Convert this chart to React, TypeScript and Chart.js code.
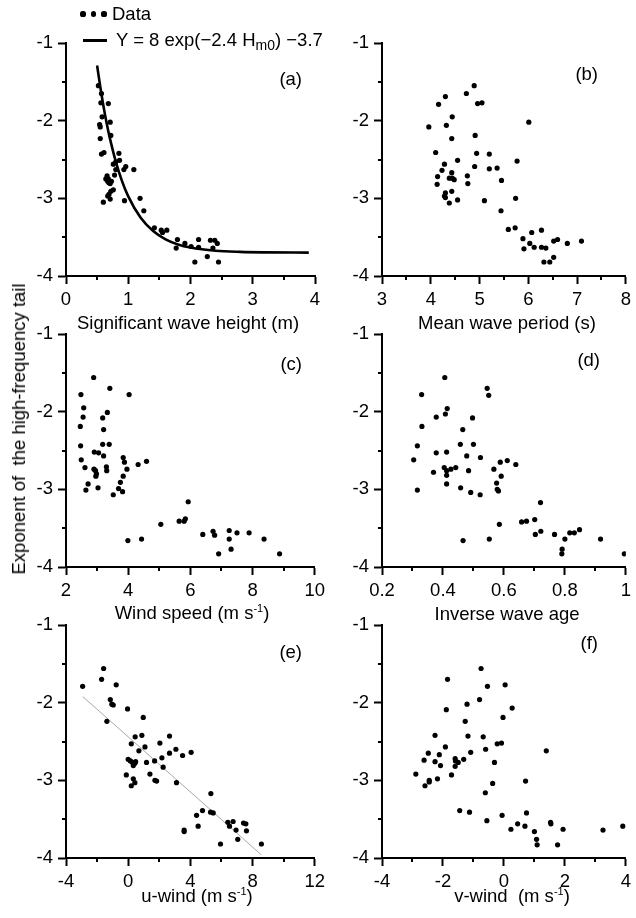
import React, { useEffect, useRef } from "react";
import { Chart, registerables } from "chart.js";

Chart.register(...registerables);

const FONT = "'Liberation Sans', Arial, sans-serif";
const FS = 18.5;

// ---------- data ----------
const yTickValues = [-4, -3, -2, -1];
const yMinorValues = [-3.5, -2.5, -1.5];

// (a) significant wave height
const hsX = [0.52, 0.57, 0.56, 0.68, 0.58, 0.54, 0.55, 0.71, 0.55, 0.72, 0.57, 0.61, 0.85, 0.86, 0.76, 0.8, 0.96, 0.93, 1.09, 0.8, 0.78, 0.66, 0.64, 0.68, 0.67, 0.69, 0.73, 0.71, 0.76, 0.72, 0.69, 0.67, 0.71, 0.6, 0.94, 1.19, 1.25, 1.42, 1.53, 1.55, 1.62, 1.79, 1.77, 1.91, 2.01, 2.07, 2.13, 2.13, 2.27, 2.32, 2.36, 2.39, 2.43, 2.45];
const hsY = [-1.55, -1.65, -1.77, -1.78, -1.95, -2.05, -2.08, -2.02, -2.23, -2.19, -2.43, -2.41, -2.42, -2.51, -2.56, -2.53, -2.59, -2.63, -2.63, -2.63, -2.7, -2.71, -2.75, -2.75, -2.78, -2.8, -2.78, -2.81, -2.89, -2.91, -2.95, -2.97, -3.01, -3.05, -3.03, -3.0, -3.16, -3.38, -3.41, -3.44, -3.41, -3.53, -3.64, -3.58, -3.62, -3.82, -3.53, -3.63, -3.75, -3.54, -3.64, -3.54, -3.58, -3.82];
const fitX = [0.5, 0.55, 0.6, 0.65, 0.7, 0.8, 0.9, 1.0, 1.2, 1.4, 1.6, 1.8, 2.0, 2.4, 2.8, 3.2, 3.9];
const fitY = [-1.29, -1.56, -1.805, -2.02, -2.209, -2.527, -2.778, -2.974, -3.251, -3.422, -3.528, -3.594, -3.634, -3.675, -3.69, -3.696, -3.699];
const hsTicks = [0, 1, 2, 3, 4];
const hsMinor = [0.5, 1.5, 2.5, 3.5];

// (b) mean wave period
const tmX = [4.89, 4.73, 4.3, 4.16, 4.96, 5.05, 4.44, 3.96, 4.32, 6.01, 4.43, 4.91, 4.1, 4.94, 5.2, 4.55, 5.77, 4.28, 4.9, 4.23, 5.2, 5.36, 4.43, 4.14, 4.75, 4.38, 4.44, 4.48, 5.45, 4.13, 4.76, 4.3, 4.28, 4.3, 4.43, 5.74, 4.38, 4.55, 5.1, 5.44, 5.59, 5.73, 5.89, 5.91, 6.03, 6.07, 6.12, 6.27, 6.27, 6.36, 6.32, 6.44, 6.52, 6.52, 6.6, 6.8, 7.09];
const tmY = [-1.55, -1.65, -1.69, -1.79, -1.78, -1.77, -1.95, -2.08, -2.06, -2.02, -2.23, -2.19, -2.41, -2.42, -2.43, -2.51, -2.52, -2.56, -2.59, -2.64, -2.62, -2.61, -2.67, -2.72, -2.71, -2.74, -2.74, -2.76, -2.77, -2.82, -2.81, -2.93, -2.97, -2.99, -2.91, -3.0, -3.06, -3.02, -3.03, -3.16, -3.4, -3.38, -3.52, -3.65, -3.58, -3.44, -3.63, -3.41, -3.63, -3.64, -3.82, -3.82, -3.76, -3.55, -3.53, -3.58, -3.55];
const tmTicks = [3, 4, 5, 6, 7, 8];
const tmMinor = [3.5, 4.5, 5.5, 6.5, 7.5];

// (c) wind speed
const wsX = [2.89, 3.41, 2.48, 4.03, 2.57, 2.55, 3.33, 3.18, 2.46, 3.21, 2.47, 3.18, 3.39, 2.49, 2.91, 3.05, 3.21, 3.84, 3.88, 2.61, 3.3, 3.31, 2.9, 2.95, 2.98, 2.96, 4.32, 4.59, 3.96, 3.84, 2.71, 3.75, 2.64, 3.03, 3.69, 3.82, 3.52, 5.93, 5.05, 5.64, 5.8, 5.84, 3.99, 4.43, 6.4, 6.73, 6.78, 6.91, 7.25, 7.5, 7.25, 7.31, 7.89, 8.37, 8.87];
const wsY = [-1.56, -1.7, -1.78, -1.78, -1.95, -2.07, -2.01, -2.08, -2.19, -2.23, -2.44, -2.42, -2.42, -2.62, -2.52, -2.53, -2.57, -2.59, -2.65, -2.72, -2.71, -2.76, -2.74, -2.76, -2.8, -2.83, -2.68, -2.64, -2.74, -2.83, -2.93, -2.91, -3.01, -2.98, -2.99, -3.03, -3.07, -3.16, -3.45, -3.41, -3.41, -3.38, -3.66, -3.64, -3.58, -3.54, -3.59, -3.83, -3.53, -3.56, -3.64, -3.77, -3.56, -3.64, -3.83];
const wsTicks = [2, 4, 6, 8, 10];
const wsMinor = [3, 5, 7, 9];

// (d) inverse wave age
const iwaX = [0.406, 0.545, 0.33, 0.55, 0.414, 0.378, 0.408, 0.497, 0.331, 0.465, 0.316, 0.457, 0.5, 0.378, 0.412, 0.478, 0.523, 0.304, 0.588, 0.611, 0.639, 0.369, 0.404, 0.412, 0.412, 0.426, 0.442, 0.484, 0.567, 0.591, 0.412, 0.458, 0.576, 0.578, 0.582, 0.316, 0.491, 0.522, 0.72, 0.585, 0.658, 0.674, 0.701, 0.466, 0.552, 0.703, 0.721, 0.766, 0.8, 0.816, 0.831, 0.848, 0.791, 0.79, 0.917, 0.995];
const iwaY = [-1.56, -1.7, -1.78, -1.79, -1.96, -2.07, -2.03, -2.08, -2.19, -2.23, -2.44, -2.42, -2.42, -2.53, -2.52, -2.57, -2.59, -2.62, -2.65, -2.63, -2.68, -2.78, -2.72, -2.76, -2.82, -2.74, -2.72, -2.76, -2.74, -2.83, -2.93, -2.98, -2.92, -3.0, -3.02, -3.01, -3.04, -3.07, -3.17, -3.45, -3.42, -3.41, -3.39, -3.66, -3.64, -3.58, -3.54, -3.58, -3.64, -3.56, -3.56, -3.52, -3.77, -3.83, -3.64, -3.83];
const iwaTicks = [0.2, 0.4, 0.6, 0.8, 1];
const iwaMinor = [0.3, 0.5, 0.7, 0.9];

// (e) u-wind
const uX = [-2.93, -1.58, -1.71, -0.77, -1.15, -1.05, -0.96, -1.37, -0.04, 0.97, 0.2, 0.45, 0.88, 2.66, 2.04, 1.08, 0.69, 3.07, 2.66, 3.5, 4.05, 2.17, 0.0, 0.14, 0.28, 0.43, 0.33, 0.48, 1.18, 1.7, 2.25, -0.12, 1.4, 1.72, 1.83, 0.33, 0.43, 0.2, 3.11, 5.32, 4.78, 4.4, 5.3, 5.47, 4.5, 3.6, 3.6, 6.41, 6.75, 6.52, 7.42, 7.57, 6.94, 7.61, 7.05, 5.94, 8.57];
const uY = [-1.79, -1.56, -1.7, -1.77, -1.96, -2.02, -2.03, -2.24, -2.08, -2.19, -2.53, -2.44, -2.42, -2.43, -2.52, -2.57, -2.62, -2.6, -2.65, -2.68, -2.64, -2.71, -2.73, -2.75, -2.77, -2.78, -2.81, -2.76, -2.77, -2.75, -2.83, -2.93, -2.92, -3.0, -3.01, -2.98, -3.03, -3.07, -3.03, -3.17, -3.39, -3.45, -3.41, -3.42, -3.59, -3.64, -3.66, -3.54, -3.53, -3.59, -3.55, -3.56, -3.64, -3.65, -3.76, -3.82, -3.82];
const uTrendX = [-2.93, 8.57];
const uTrendY = [-1.92, -3.96];
const uTicks = [-4, 0, 4, 8, 12];
const uMinor = [-2, 2, 6, 10];

// (f) v-wind
const vX = [-0.75, -1.85, -0.54, 0.04, -0.8, -1.21, -1.89, 0.27, -1.27, -0.03, -2.26, -1.18, -0.68, -1.92, -0.22, -0.08, -0.6, -2.48, -1.09, 1.39, -2.12, -2.62, -2.89, -2.26, -1.6, -1.59, -1.5, -1.32, -2.08, -1.6, -0.31, -1.72, -2.18, -2.45, -2.45, -2.59, -0.37, 0.71, -0.61, -1.45, -1.13, 0.74, -0.06, -0.56, 0.45, 0.23, 0.69, 1.53, 1.54, 1.0, 1.07, 1.09, 1.94, 1.76, 3.25, 3.9];
const vY = [-1.56, -1.7, -1.79, -1.77, -1.96, -2.02, -2.09, -2.07, -2.24, -2.19, -2.42, -2.43, -2.44, -2.57, -2.53, -2.52, -2.6, -2.65, -2.64, -2.62, -2.67, -2.74, -2.92, -2.76, -2.72, -2.75, -2.77, -2.73, -2.81, -2.82, -2.77, -2.93, -2.98, -3.0, -3.02, -3.07, -3.04, -3.01, -3.16, -3.39, -3.41, -3.42, -3.45, -3.52, -3.56, -3.63, -3.59, -3.54, -3.56, -3.66, -3.76, -3.83, -3.63, -3.83, -3.64, -3.59];
const vTicks = [-4, -2, 0, 2, 4];
const vMinor = [-3, -1, 1, 3];

// ---------- helpers ----------
const toPts = (xs: number[], ys: number[]) => xs.map((x, i) => ({ x, y: ys[i] }));

const minorTicksPlugin = {
  id: "minorTicks",
  afterDraw(chart: any, _args: any, opts: any) {
    const { ctx, chartArea, scales } = chart;
    ctx.save();
    ctx.strokeStyle = "#000";
    ctx.lineWidth = 2;
    ctx.beginPath();
    for (const v of opts.x || []) {
      const px = Math.round(scales.x.getPixelForValue(v));
      ctx.moveTo(px, chartArea.bottom);
      ctx.lineTo(px, chartArea.bottom + 4);
    }
    for (const v of opts.y || []) {
      const py = Math.round(scales.y.getPixelForValue(v));
      ctx.moveTo(chartArea.left - 4, py);
      ctx.lineTo(chartArea.left, py);
    }
    ctx.stroke();
    ctx.restore();
  },
};

type PanelProps = {
  left: number;
  top: number;
  width: number;
  height: number;
  yAxisWidth: number;
  padRight: number;
  padTop: number;
  xAxisHeight: number;
  xMin: number;
  xMax: number;
  xTicks: number[];
  xMinor: number[];
  datasets: any[];
};

function Panel(p: PanelProps) {
  const ref = useRef<HTMLCanvasElement>(null);
  useEffect(() => {
    if (!ref.current) return;
    const axisCommon = {
      type: "linear" as const,
      grid: {
        display: true,
        drawOnChartArea: false,
        drawTicks: true,
        tickLength: 8,
        tickWidth: 2,
        tickColor: "#000",
        color: "#000",
      },
      border: { display: true, color: "#000", width: 2 },
    };
    const chart = new Chart(ref.current, {
      type: "scatter",
      data: { datasets: p.datasets },
      options: {
        responsive: false,
        animation: false,
        events: [],
        layout: { padding: { left: 0, right: p.padRight, top: p.padTop, bottom: 0 } },
        plugins: {
          legend: { display: false },
          tooltip: { enabled: false },
          minorTicks: { x: p.xMinor, y: yMinorValues },
        } as any,
        scales: {
          x: {
            ...axisCommon,
            min: p.xMin,
            max: p.xMax,
            afterBuildTicks: (s: any) => {
              s.ticks = p.xTicks.map((v) => ({ value: v }));
            },
            afterFit: (s: any) => {
              s.height = p.xAxisHeight;
            },
            ticks: {
              color: "#000",
              font: { family: FONT, size: FS },
              padding: 5,
              maxRotation: 0,
              autoSkip: false,
              callback: (v: any) => String(v),
            },
          },
          y: {
            ...axisCommon,
            min: -4,
            max: -1,
            afterBuildTicks: (s: any) => {
              s.ticks = yTickValues.map((v) => ({ value: v }));
            },
            afterFit: (s: any) => {
              s.width = p.yAxisWidth;
            },
            ticks: {
              color: "#000",
              font: { family: FONT, size: FS },
              padding: 5,
              autoSkip: false,
              callback: (v: any) => String(v),
            },
          },
        },
      },
      plugins: [minorTicksPlugin],
    } as any);
    return () => chart.destroy();
  }, []);
  return (
    <canvas
      ref={ref}
      width={p.width}
      height={p.height}
      style={{ position: "absolute", left: p.left, top: p.top, width: p.width, height: p.height }}
    />
  );
}

const dotStyle = (extra: any = {}) => ({
  pointRadius: 2.6,
  pointBackgroundColor: "#000",
  pointBorderWidth: 0,
  showLine: false,
  ...extra,
});

const AREA_H = 233;
const PAD_TOP = 20;
const X_AXIS_H = 40;
const rowTops = [43, 334, 625];
const cols = [
  { left: 0, width: 330, yAxisWidth: 66, padRight: 15 },
  { left: 320, width: 316, yAxisWidth: 62, padRight: 5 },
];

const panels = [
  {
    row: 0, col: 0, xMin: 0, xMax: 4, xTicks: hsTicks, xMinor: hsMinor,
    datasets: [
      { label: "Data", data: toPts(hsX, hsY), ...dotStyle() },
      {
        label: "Y = 8 exp(-2.4 Hm0) -3.7",
        data: toPts(fitX, fitY),
        showLine: true,
        borderColor: "#000",
        borderWidth: 2.6,
        pointRadius: 0,
        cubicInterpolationMode: "monotone",
        fill: false,
      },
    ],
  },
  { row: 0, col: 1, xMin: 3, xMax: 8, xTicks: tmTicks, xMinor: tmMinor, datasets: [{ label: "Data", data: toPts(tmX, tmY), ...dotStyle() }] },
  { row: 1, col: 0, xMin: 2, xMax: 10, xTicks: wsTicks, xMinor: wsMinor, datasets: [{ label: "Data", data: toPts(wsX, wsY), ...dotStyle() }] },
  { row: 1, col: 1, xMin: 0.2, xMax: 1, xTicks: iwaTicks, xMinor: iwaMinor, datasets: [{ label: "Data", data: toPts(iwaX, iwaY), ...dotStyle() }] },
  {
    row: 2, col: 0, xMin: -4, xMax: 12, xTicks: uTicks, xMinor: uMinor,
    datasets: [
      { label: "Data", data: toPts(uX, uY), ...dotStyle() },
      { label: "Trend", data: toPts(uTrendX, uTrendY), showLine: true, borderColor: "#a8a8a8", borderWidth: 1, pointRadius: 0, fill: false },
    ],
  },
  { row: 2, col: 1, xMin: -4, xMax: 4, xTicks: vTicks, xMinor: vMinor, datasets: [{ label: "Data", data: toPts(vX, vY), ...dotStyle() }] },
];

const panelLabels = [
  { text: "(a)", right: 302, top: 69 },
  { text: "(b)", right: 598, top: 64 },
  { text: "(c)", right: 302, top: 354 },
  { text: "(d)", right: 600, top: 350 },
  { text: "(e)", right: 302, top: 642 },
  { text: "(f)", right: 598, top: 633 },
];

const Sup = () => (
  <span style={{ fontSize: 11, position: "relative", top: -7 }}>-1</span>
);

const xTitles: { cx: number; top: number; content: React.ReactNode }[] = [
  { cx: 188, top: 313, content: "Significant wave height (m)" },
  { cx: 507, top: 313, content: "Mean wave period (s)" },
  { cx: 192, top: 603, content: <>Wind speed (m s<Sup />)</> },
  { cx: 507, top: 604, content: "Inverse wave age" },
  { cx: 197, top: 886, content: <>u-wind (m s<Sup />)</> },
  { cx: 512, top: 886, content: <>v-wind&nbsp; (m s<Sup />)</> },
];

const textBase: React.CSSProperties = {
  position: "absolute",
  fontFamily: FONT,
  fontSize: FS,
  lineHeight: "20px",
  color: "#000",
  whiteSpace: "pre",
};

export default function App() {
  return (
    <div style={{ position: "absolute", left: 0, top: 0, width: 636, height: 918, background: "#fff", overflow: "hidden" }}>
      {panels.map((pn, i) => {
        const c = cols[pn.col];
        const top = rowTops[pn.row] - PAD_TOP;
        return (
          <Panel
            key={i}
            left={c.left}
            top={top}
            width={c.width}
            height={PAD_TOP + AREA_H + X_AXIS_H}
            yAxisWidth={c.yAxisWidth}
            padRight={c.padRight}
            padTop={PAD_TOP}
            xAxisHeight={X_AXIS_H}
            xMin={pn.xMin}
            xMax={pn.xMax}
            xTicks={pn.xTicks}
            xMinor={pn.xMinor}
            datasets={pn.datasets}
          />
        );
      })}

      {/* legend */}
      {[83, 93.3, 104].map((x, i) => (
        <div key={i} style={{ position: "absolute", left: x - 2.6, top: 14 - 2.6, width: 5.2, height: 5.2, borderRadius: "50%", background: "#000" }} />
      ))}
      <div style={{ ...textBase, left: 112, top: 4 }}>Data</div>
      <div style={{ position: "absolute", left: 83, top: 38.5, width: 24, height: 3, background: "#000" }} />
      <div style={{ ...textBase, left: 116, top: 30 }}>
        Y = 8 exp(−2.4 H<span style={{ fontSize: 14, position: "relative", top: 4 }}>m0</span>) −3.7
      </div>

      {panelLabels.map((l, i) => (
        <div key={i} style={{ ...textBase, left: l.right - 40, width: 40, textAlign: "right", top: l.top }}>{l.text}</div>
      ))}

      {xTitles.map((t, i) => (
        <div key={i} style={{ ...textBase, left: t.cx, top: t.top, transform: "translateX(-50%)" }}>{t.content}</div>
      ))}

      <div
        style={{
          ...textBase,
          lineHeight: "normal",
          left: 18.5,
          top: 429,
          transform: "translate(-50%, -50%) rotate(-90deg)",
        }}
      >
        Exponent of  the high-frequency tail
      </div>
    </div>
  );
}
